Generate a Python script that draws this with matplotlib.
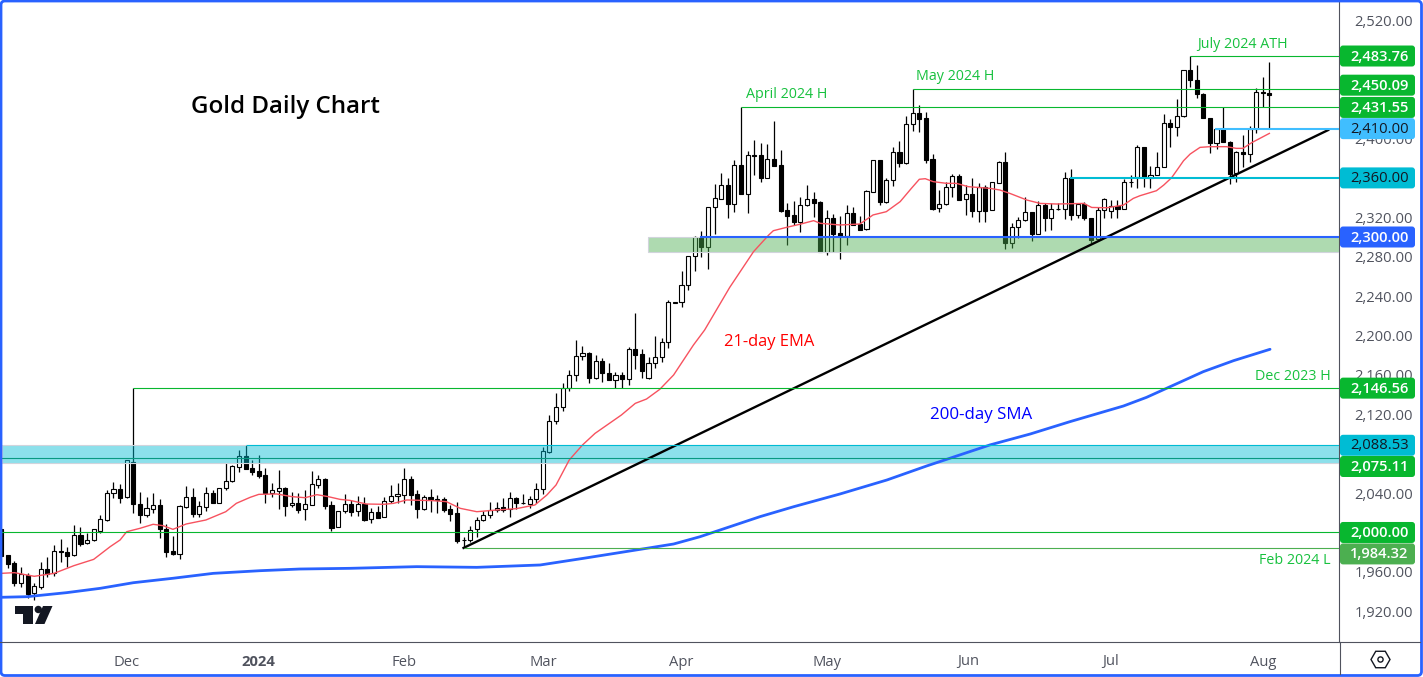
import matplotlib
matplotlib.use("Agg")
import matplotlib.pyplot as plt
from matplotlib.patches import FancyBboxPatch, Polygon, Circle, RegularPolygon, Rectangle
from matplotlib.transforms import IdentityTransform

W, H = 1423, 677

opens = [
    2003.2, 1977.1, 1968.7, 1949.0, 1956.8, 1938.2, 1945.0, 1962.6, 1958.5, 1980.9,
    1980.2, 1976.8, 1997.1, 1989.0, 1992.0, 2001.8, 2013.0, 2039.7, 2043.8, 2035.7,
    2071.2, 2028.6, 2018.1, 2024.2, 2027.6, 2003.9, 1981.2, 1978.5, 2026.2, 2035.7,
    2019.1, 2026.2, 2039.7, 2030.3, 2044.8, 2051.9, 2066.8, 2077.3, 2065.1, 2062.4,
    2058.0, 2040.4, 2042.5, 2044.8, 2027.6, 2029.6, 2023.5, 2028.2, 2048.5, 2054.3,
    2027.9, 2005.2, 2022.1, 2028.6, 2021.5, 2028.9, 2013.3, 2020.4, 2015.4, 2032.3,
    2036.7, 2038.4, 2053.9, 2038.7, 2024.2, 2035.7, 2033.6, 2033.6, 2023.5, 2019.4,
    1992.4, 1992.0, 2003.2, 2012.3, 2017.4, 2023.2, 2025.5, 2023.5, 2034.7, 2030.3,
    2029.2, 2033.6, 2043.8, 2081.7, 2113.5, 2127.7, 2146.7, 2159.5, 2178.8, 2181.9,
    2157.2, 2173.7, 2161.6, 2155.1, 2159.5, 2156.1, 2185.9, 2180.8, 2156.5, 2171.7,
    2178.5, 2193.7, 2233.3, 2233.7, 2251.0, 2280.4, 2299.7, 2290.2, 2330.1, 2338.9,
    2352.5, 2333.9, 2372.8, 2344.0, 2382.9, 2382.9, 2360.2, 2378.9, 2372.8, 2327.1,
    2322.0, 2315.6, 2332.2, 2338.3, 2335.2, 2285.1, 2319.0, 2303.7, 2301.4, 2324.0,
    2313.2, 2307.8, 2346.0, 2377.8, 2335.9, 2357.5, 2386.0, 2375.5, 2414.4, 2425.6,
    2420.5, 2378.9, 2329.1, 2333.2, 2350.4, 2361.9, 2338.3, 2343.3, 2326.7, 2350.4,
    2327.0, 2355.1, 2375.8, 2293.5, 2309.8, 2317.2, 2325.0, 2303.3, 2332.1, 2318.9,
    2328.7, 2328.4, 2359.5, 2322.0, 2333.8, 2318.9, 2297.6, 2327.0, 2326.3, 2331.8,
    2328.4, 2355.8, 2360.5, 2391.0, 2359.8, 2363.2, 2371.0, 2415.3, 2411.3, 2422.5,
    2469.5, 2459.0, 2444.8, 2420.4, 2395.7, 2409.3, 2396.7, 2364.6, 2386.6, 2383.9,
    2409.6, 2446.8, 2445.8,
]
highs = [
    2003.2, 1977.1, 1971.4, 1964.6, 1959.2, 1949.0, 1970.0, 1975.4, 1987.3, 1993.4,
    1984.9, 2007.6, 2005.2, 1999.1, 2003.2, 2017.7, 2043.1, 2051.3, 2048.9, 2074.0,
    2146.56, 2041.1, 2036.4, 2039.7, 2034.0, 2008.6, 1996.4, 2027.6, 2047.2, 2044.8,
    2032.3, 2045.8, 2043.1, 2044.8, 2070.2, 2068.5, 2083.7, 2088.53, 2073.6, 2078.7,
    2065.1, 2049.9, 2063.4, 2045.8, 2040.8, 2039.7, 2043.1, 2062.4, 2058.4, 2055.0,
    2032.3, 2022.1, 2039.1, 2032.6, 2037.0, 2035.7, 2025.2, 2026.9, 2036.4, 2048.2,
    2049.9, 2065.1, 2057.3, 2043.1, 2038.0, 2043.8, 2038.0, 2036.4, 2027.9, 2030.6,
    1995.7, 2006.6, 2016.0, 2022.1, 2030.6, 2031.3, 2035.3, 2040.7, 2036.4, 2039.0,
    2037.0, 2050.2, 2087.1, 2119.3, 2141.2, 2151.4, 2164.9, 2195.4, 2189.3, 2183.6,
    2180.2, 2177.1, 2172.4, 2162.9, 2162.6, 2187.9, 2222.8, 2185.9, 2178.5, 2199.5,
    2197.1, 2236.0, 2234.0, 2265.5, 2280.4, 2301.0, 2306.1, 2330.5, 2353.8, 2364.6,
    2359.6, 2378.2, 2431.55, 2387.3, 2398.5, 2395.1, 2394.1, 2417.8, 2388.3, 2334.9,
    2336.9, 2341.0, 2352.8, 2346.0, 2336.6, 2327.4, 2323.0, 2321.3, 2332.2, 2330.1,
    2321.3, 2347.7, 2378.2, 2378.2, 2359.6, 2391.7, 2397.5, 2422.9, 2450.09, 2434.0,
    2426.6, 2383.9, 2347.7, 2356.2, 2364.0, 2363.6, 2352.8, 2359.6, 2354.5, 2352.8,
    2355.4, 2377.1, 2386.6, 2314.5, 2320.6, 2340.9, 2325.7, 2336.5, 2334.8, 2334.1,
    2334.1, 2366.3, 2369.0, 2334.1, 2335.8, 2319.6, 2330.8, 2339.2, 2337.5, 2337.5,
    2358.8, 2362.9, 2393.4, 2391.0, 2372.0, 2385.9, 2424.8, 2419.4, 2440.0, 2469.2,
    2483.76, 2474.6, 2445.8, 2420.4, 2410.3, 2431.6, 2397.4, 2387.3, 2403.5, 2412.6,
    2450.9, 2462.7, 2477.3,
]
lows = [
    1976.5, 1963.6, 1946.0, 1945.0, 1933.1, 1931.5, 1942.3, 1955.1, 1955.8, 1970.4,
    1964.6, 1976.5, 1986.6, 1988.3, 1991.3, 1999.1, 2011.7, 2035.0, 2030.3, 2035.0,
    2019.4, 2010.0, 2016.0, 2019.4, 1994.7, 1975.4, 1977.5, 1973.4, 2024.5, 2016.0,
    2016.0, 2022.1, 2029.6, 2030.3, 2043.1, 2051.6, 2061.7, 2064.8, 2058.4, 2055.0,
    2030.3, 2036.4, 2023.8, 2017.1, 2026.2, 2020.1, 2012.7, 2027.9, 2045.5, 2023.8,
    2001.8, 2005.2, 2020.1, 2017.1, 2017.1, 2011.6, 2009.9, 2015.0, 2015.4, 2029.6,
    2030.3, 2029.6, 2027.9, 2015.0, 2022.8, 2021.1, 2020.1, 2021.1, 2011.6, 1989.6,
    1984.32, 1990.7, 1995.7, 2012.0, 2015.0, 2021.1, 2021.1, 2016.0, 2023.5, 2028.9,
    2024.5, 2029.6, 2039.0, 2080.3, 2110.1, 2123.7, 2144.0, 2153.8, 2175.1, 2151.4,
    2156.1, 2153.1, 2154.8, 2146.3, 2146.3, 2149.7, 2165.6, 2156.5, 2155.8, 2166.6,
    2173.4, 2187.6, 2233.3, 2229.2, 2246.2, 2265.5, 2280.0, 2267.5, 2303.0, 2338.6,
    2319.6, 2325.7, 2344.0, 2324.7, 2363.0, 2355.5, 2360.2, 2372.4, 2325.7, 2291.9,
    2312.2, 2305.4, 2331.5, 2320.7, 2285.1, 2281.7, 2285.1, 2277.7, 2291.9, 2312.2,
    2307.1, 2307.1, 2345.7, 2332.5, 2334.9, 2351.8, 2371.4, 2374.5, 2408.0, 2406.9,
    2375.5, 2327.4, 2325.4, 2332.5, 2340.3, 2337.6, 2322.4, 2320.7, 2315.6, 2315.6,
    2327.0, 2355.1, 2287.4, 2288.4, 2298.6, 2316.5, 2296.2, 2302.7, 2306.0, 2307.0,
    2327.4, 2317.9, 2317.2, 2318.9, 2317.2, 2294.2, 2296.2, 2318.9, 2318.9, 2318.9,
    2328.0, 2351.0, 2350.0, 2351.0, 2350.0, 2362.9, 2370.7, 2391.7, 2402.5, 2421.5,
    2451.9, 2440.7, 2420.4, 2384.9, 2389.0, 2396.7, 2353.8, 2356.1, 2370.7, 2376.4,
    2405.2, 2431.6, 2410.3,
]
closes = [
    1976.5, 1968.0, 1949.0, 1957.5, 1937.6, 1945.7, 1962.6, 1957.9, 1980.9, 1980.5,
    1976.5, 1997.1, 1988.6, 1992.0, 2003.2, 2013.7, 2039.7, 2043.8, 2035.3, 2073.6,
    2028.6, 2018.1, 2024.5, 2027.6, 2003.9, 1980.5, 1978.2, 2026.5, 2035.7, 2019.1,
    2026.5, 2039.7, 2030.3, 2044.8, 2051.9, 2067.2, 2077.3, 2064.8, 2061.7, 2057.7,
    2040.4, 2042.8, 2044.8, 2027.2, 2029.6, 2023.2, 2028.6, 2048.9, 2054.0, 2027.2,
    2004.9, 2022.1, 2028.6, 2021.1, 2028.6, 2012.7, 2020.4, 2015.0, 2032.3, 2036.7,
    2038.7, 2053.9, 2038.4, 2024.2, 2035.7, 2034.0, 2033.3, 2022.8, 2019.1, 1991.3,
    1992.0, 2002.8, 2012.3, 2017.4, 2023.2, 2025.2, 2022.8, 2034.7, 2030.3, 2029.9,
    2033.6, 2043.8, 2082.4, 2113.5, 2127.7, 2146.7, 2159.5, 2178.8, 2181.9, 2157.2,
    2173.7, 2161.6, 2155.1, 2159.5, 2156.1, 2185.9, 2180.5, 2164.3, 2171.7, 2178.5,
    2193.7, 2233.7, 2233.7, 2251.0, 2280.4, 2299.7, 2290.2, 2330.2, 2339.3, 2352.5,
    2333.9, 2372.8, 2344.0, 2382.9, 2382.6, 2360.2, 2378.9, 2372.4, 2326.7, 2321.7,
    2315.2, 2332.2, 2338.3, 2334.9, 2285.1, 2319.0, 2303.4, 2301.0, 2324.0, 2312.2,
    2307.5, 2346.4, 2377.8, 2335.9, 2357.5, 2386.0, 2375.5, 2414.4, 2425.6, 2420.1,
    2378.5, 2328.8, 2333.2, 2350.4, 2361.6, 2337.9, 2343.3, 2326.7, 2350.4, 2326.7,
    2355.4, 2375.8, 2293.5, 2309.8, 2316.9, 2325.0, 2303.0, 2332.1, 2318.9, 2328.7,
    2328.0, 2359.5, 2322.0, 2333.8, 2318.9, 2296.9, 2327.0, 2338.9, 2331.8, 2328.7,
    2355.4, 2355.4, 2391.0, 2360.5, 2362.9, 2370.7, 2415.3, 2411.3, 2422.5, 2469.2,
    2459.0, 2444.8, 2420.4, 2395.7, 2409.3, 2396.7, 2363.9, 2386.6, 2383.9, 2409.3,
    2446.8, 2446.1, 2443.8,
]

ema_bar = [0, 2, 5, 8, 11, 14, 16.5, 18, 19, 21, 23, 24.5, 26, 28, 31, 34, 35.6, 37.7, 39, 41.7,
           44, 46, 47.8, 49.5, 51.3, 52.8, 55.3, 57.9, 59.4, 61.4, 65.4, 67.4, 69.5, 72, 75, 78,
           80.8, 82.6, 84, 86, 88, 89.9, 93.9, 96, 97.7, 99.7, 101.8, 103.3, 104.8, 106.5, 110.3,
           113.9, 116.2, 116.9, 118.9, 120.9, 123, 124, 127, 130, 132, 134, 136.1, 137.8, 139,
           139.9, 141.1, 143.1, 144.6, 146.4, 149.7, 151.2, 152.7, 155.3, 157.3, 159.8, 163.9,
           165.1, 167.4, 169.9, 171.4, 172.4, 174.9, 176, 177.2, 178.2, 179, 180, 181.5, 183,
           185.5, 187, 188, 189.3, 192]
ema_val = [1958.5, 1959.2, 1955.5, 1958.5, 1966.3, 1972.7, 1985.6, 1992.4, 2000.8, 2004.2, 2008.3,
           2006.9, 2003.2, 2008.6, 2012.7, 2021.1, 2029.6, 2035.7, 2038.7, 2039.1, 2036.4, 2035.3,
           2038.4, 2036.4, 2033.6, 2032.6, 2028.9, 2028.6, 2029.6, 2033.0, 2032.3, 2031.3, 2024.5,
           2021.1, 2022.8, 2024.2, 2027.9, 2038.0, 2048.2, 2073.6, 2088.8, 2100.6, 2119.3, 2131.1,
           2135.5, 2145.3, 2159.9, 2175.1, 2190.3, 2205.6, 2248.9, 2285.1, 2302.0, 2306.4, 2309.8,
           2312.9, 2316.6, 2313.9, 2312.2, 2313.2, 2322.4, 2325.7, 2335.9, 2349.4, 2358.6, 2359.2,
           2356.2, 2354.5, 2354.5, 2351.1, 2349.4, 2347.7, 2344.3, 2337.5, 2334.1, 2333.5, 2334.1,
           2330.0, 2329.7, 2332.4, 2339.2, 2341.9, 2347.0, 2352.7, 2360.2, 2369.7, 2377.4, 2384.2,
           2391.0, 2391.7, 2391.7, 2390.0, 2390.0, 2395.7, 2405.2]
sma_bar = [0, 3.9, 9.9, 15, 20, 26, 32.1, 39.2, 45.2, 52.8, 62.9, 72, 81.6, 88.1, 97.7, 101.8, 105.8,
           114.9, 120, 127, 134.1, 140.1, 149.7, 155.8, 161.8, 169.9, 173.4, 177, 182, 186.6, 192.1]
sma_val = [1934.2, 1934.8, 1938.9, 1943.3, 1949.0, 1953.5, 1958.5, 1961.2, 1962.9, 1963.6, 1965.3,
           1964.6, 1967.0, 1973.7, 1983.9, 1988.3, 1995.7, 2016.1, 2026.2, 2039.1, 2053.3, 2067.5,
           2088.9, 2100.0, 2112.5, 2128.4, 2137.2, 2148.1, 2163.3, 2174.5, 2186.0]

trend_bar = [70, 200.9]
trend_val = [1984.32, 2408.6]

# the other round levels sit fully behind the price tags
price_ticks = [2520, 2400, 2320, 2280, 2240, 2200, 2160, 2120, 2040, 1960, 1920]
month_bars = [19, 39, 61, 82, 103, 125, 146.4, 168, 191]
month_labels = ["Dec", "2024", "Feb", "Mar", "Apr", "May", "Jun", "Jul", "Aug"]

GREEN = "#08B72F"
TXT_GREEN = "#17C13E"
CYAN = "#00BCD4"
SKY = "#40BEFF"
BLUE = "#2962FF"
AXIS = "#50535E"
FONT = "Open Sans"

# level, bar the line starts from, colour, width
levels = [
    (2483.76, 180, GREEN, 0.8),
    (2450.09, 138, GREEN, 0.8),
    (2431.55, 112, GREEN, 0.8),
    (2146.56, 20, GREEN, 0.8),
    (2088.53, 37, CYAN, 0.8),
    (2075.11, 0, "#089981", 0.8),
    (2000.00, 0, GREEN, 0.8),
    (1984.32, 70, "#4CAF50", 0.8),
    (2410.00, 183.8, SKY, 1.5),
    (2360.00, 161.8, CYAN, 1.5),
    (2300.00, 105.8, BLUE, 1.5),
]
# price tags on the axis: value, fill, text colour, pixels the tag is pushed off its level
tags = [
    (2483.76, GREEN, "white", 0),
    (2450.09, GREEN, "white", -4),
    (2431.55, GREEN, "white", 0),
    (2410.00, SKY, "#131722", 0),
    (2360.00, CYAN, "#131722", 0),
    (2300.00, BLUE, "white", 0),
    (2146.56, GREEN, "white", 0),
    (2088.53, CYAN, "#131722", 0),
    (2075.11, GREEN, "white", 8),
    (2000.00, GREEN, "white", 0),
    (1984.32, "#4CAF50", "white", 6),
]


def px_y(y):
    # picture rows count from the top, matplotlib from the bottom
    return H - y


fig = plt.figure(figsize=(W / 100, H / 100), dpi=100, facecolor="white")
ax = fig.add_axes([2 / W, (H - 642) / H, (1339 - 2) / W, 640 / H])
ax.set_xlim(0.12, 202.54)
ax.set_ylim(1888.8, 2538.6)
for side in ["top", "left", "bottom"]:
    ax.spines[side].set_visible(False)
ax.spines["right"].set_color(AXIS)
ax.spines["right"].set_linewidth(0.8)

# candles
bars = range(len(opens))
ax.vlines(bars, lows, highs, color="black", lw=0.9, zorder=2)
for i in bars:
    bottom = min(opens[i], closes[i])
    height = abs(closes[i] - opens[i])
    face = "white" if closes[i] >= opens[i] else "black"
    ax.bar(i, height, bottom=bottom, width=0.62, facecolor=face, edgecolor="black", lw=0.8, zorder=3)

# support zones, see-through so the candles show under them
ax.add_patch(Rectangle((0.12, 2070.6), 202.42, 17.93, facecolor="#00BCD473",
                       edgecolor="#D1D4DC", lw=0.8, zorder=4))
zone_left = (648 - 133.3) / 6.605 + 20
ax.add_patch(Rectangle((zone_left, 2284.5), 202.54 - zone_left, 15.5, facecolor="#4CAF5073",
                       edgecolor="#D1D4DC", lw=0.8, zorder=4))

ax.plot(sma_bar, sma_val, color=BLUE, lw=2.0, zorder=5, solid_capstyle="round")
ax.plot(ema_bar, ema_val, color="#F7525F", lw=1.0, zorder=5)
ax.plot(trend_bar, trend_val, color="black", lw=1.7, zorder=6)

for value, start, colour, width in levels:
    ax.hlines(value, start, 202.54, color=colour, lw=width, zorder=6)

# axes text
ax.yaxis.tick_right()
ax.set_yticks(price_ticks)
ax.set_yticklabels([f"{p:,.2f}" for p in price_ticks], fontsize=10.6, color="#50535E", family=FONT)
ax.tick_params(axis="y", length=0, pad=11)
ax.set_xticks(month_bars)
ax.set_xticklabels(month_labels, fontsize=10.6, color="#50535E", family=FONT)
ax.get_xticklabels()[1].set_fontweight("bold")
ax.tick_params(axis="x", length=0, pad=9)

# price tags
for value, fill, ink, push in tags:
    yc = ax.transData.transform((0, value))[1] - push
    tag = FancyBboxPatch((1340, yc - 10.5), 75, 21, boxstyle="round,pad=0,rounding_size=3",
                         facecolor=fill, edgecolor="none", transform=IdentityTransform(),
                         clip_on=False, zorder=10)
    ax.add_patch(tag)
    ax.text(1379.5, yc - 0.5, f"{value:,.2f}", color=ink, fontsize=10.6, family=FONT, ha="center", va="center",
            fontweight="semibold" if ink == "white" else "normal",
            transform=IdentityTransform(), clip_on=False, zorder=11)

# chart notes
notes = [
    (285, 107, "Gold Daily Chart", "black", 17.4, "semibold"),
    (787, 95, "April 2024 H", TXT_GREEN, 10.3, "normal"),
    (955, 77, "May 2024 H", TXT_GREEN, 10.3, "normal"),
    (1242, 44, "July 2024 ATH", TXT_GREEN, 10.3, "normal"),
    (1293, 376, "Dec 2023 H", TXT_GREEN, 10.3, "normal"),
    (1295, 561, "Feb 2024 L", TXT_GREEN, 10.3, "normal"),
    (769, 342, "21-day EMA", "#FF0000", 11.9, "normal"),
    (981, 415, "200-day SMA", "#0000FF", 12.2, "normal"),
]
for x, y, s, colour, size, weight in notes:
    ax.text(x, px_y(y), s, color=colour, fontsize=size, fontweight=weight, family=FONT,
            ha="center", va="center", transform=IdentityTransform(), zorder=8)

# frame of the widget
pix = IdentityTransform()
fig.add_artist(plt.Line2D([0, 1420], [px_y(642), px_y(642)], color=AXIS, lw=0.8, transform=pix))
fig.add_artist(plt.Line2D([1339.5, 1339.5], [px_y(642), px_y(674)], color=AXIS, lw=0.8, transform=pix))
fig.add_artist(FancyBboxPatch((1, 1.5), W - 2.5, H - 2.5, boxstyle="round,pad=0,rounding_size=4",
                              facecolor="none", edgecolor=BLUE, lw=2.0, transform=pix))

# settings icon
fig.add_artist(RegularPolygon((1380.5, px_y(659.5)), 6, radius=9.5, orientation=0.5236,
                              facecolor="white", edgecolor="#131722", lw=1.0, transform=pix))
fig.add_artist(Circle((1380.5, px_y(659.5)), 2.6, facecolor="white", edgecolor="#131722", lw=1.0, transform=pix))

# logo in the corner
logo = "#131722"
fig.add_artist(Polygon([(15, px_y(606)), (33, px_y(606)), (33, px_y(624)), (23, px_y(624)),
                        (23, px_y(614)), (15, px_y(614))], closed=True, fc=logo, ec="none", transform=pix))
fig.add_artist(Circle((38.3, px_y(609.5)), 3.7, fc=logo, ec="none", transform=pix))
fig.add_artist(Polygon([(43, px_y(606)), (52.5, px_y(606)), (44.5, px_y(624)), (35, px_y(624))],
                       closed=True, fc=logo, ec="none", transform=pix))

fig.savefig("out.png", dpi=100)
